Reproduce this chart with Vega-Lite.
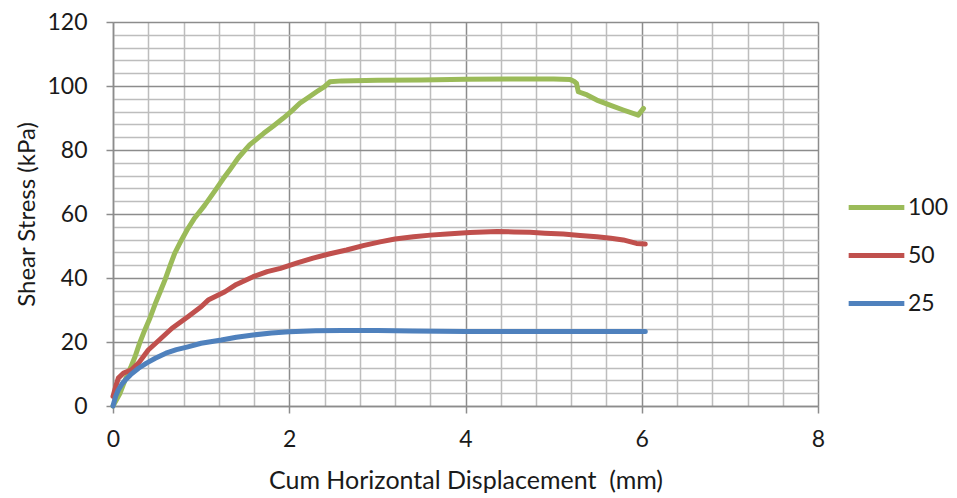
{
  "$schema": "https://vega.github.io/schema/vega-lite/v6.json",
  "width": 705,
  "height": 384,
  "autosize": {"type": "none"},
  "padding": {"left": 113, "top": 22, "right": 139, "bottom": 92},
  "background": "#ffffff",
  "config": {
    "view": {"stroke": null},
    "font": "Lato",
    "axis": {"labelFont": "Lato", "titleFont": "Lato", "labelColor": "#1a1a1a", "titleColor": "#1a1a1a", "titleFontWeight": "normal"},
    "legend": {"labelFont": "Lato", "labelColor": "#1a1a1a"}
  },
  "data": {
    "values": [
      {"series": "100", "x": 0, "y": 0},
      {"series": "100", "x": 0.02, "y": 1},
      {"series": "100", "x": 0.08, "y": 4},
      {"series": "100", "x": 0.14, "y": 8.3},
      {"series": "100", "x": 0.2, "y": 12},
      {"series": "100", "x": 0.25, "y": 15.4},
      {"series": "100", "x": 0.3, "y": 19.5},
      {"series": "100", "x": 0.36, "y": 23.7},
      {"series": "100", "x": 0.42, "y": 27.5},
      {"series": "100", "x": 0.48, "y": 32},
      {"series": "100", "x": 0.54, "y": 36},
      {"series": "100", "x": 0.59, "y": 39.4},
      {"series": "100", "x": 0.65, "y": 44},
      {"series": "100", "x": 0.7, "y": 47.7},
      {"series": "100", "x": 0.77, "y": 51.5},
      {"series": "100", "x": 0.84, "y": 55},
      {"series": "100", "x": 0.92, "y": 58.5},
      {"series": "100", "x": 1.04, "y": 62.7},
      {"series": "100", "x": 1.15, "y": 67},
      {"series": "100", "x": 1.25, "y": 71},
      {"series": "100", "x": 1.33, "y": 74},
      {"series": "100", "x": 1.42, "y": 77.5},
      {"series": "100", "x": 1.55, "y": 81.6},
      {"series": "100", "x": 1.71, "y": 85.2},
      {"series": "100", "x": 1.82, "y": 87.5},
      {"series": "100", "x": 1.93, "y": 89.9},
      {"series": "100", "x": 2.02, "y": 92},
      {"series": "100", "x": 2.12, "y": 94.6},
      {"series": "100", "x": 2.22, "y": 96.5},
      {"series": "100", "x": 2.31, "y": 98.2},
      {"series": "100", "x": 2.4, "y": 99.8},
      {"series": "100", "x": 2.46, "y": 101.3},
      {"series": "100", "x": 2.6, "y": 101.6},
      {"series": "100", "x": 3.0, "y": 101.8},
      {"series": "100", "x": 3.5, "y": 101.9},
      {"series": "100", "x": 4.0, "y": 102.1},
      {"series": "100", "x": 4.5, "y": 102.2},
      {"series": "100", "x": 5.0, "y": 102.2},
      {"series": "100", "x": 5.19, "y": 102.0},
      {"series": "100", "x": 5.23, "y": 101.5},
      {"series": "100", "x": 5.26, "y": 100.8},
      {"series": "100", "x": 5.28, "y": 98.2},
      {"series": "100", "x": 5.38, "y": 97.2},
      {"series": "100", "x": 5.49, "y": 95.6},
      {"series": "100", "x": 5.64, "y": 94},
      {"series": "100", "x": 5.79, "y": 92.5},
      {"series": "100", "x": 5.96, "y": 90.9},
      {"series": "100", "x": 6.02, "y": 93},
      {"series": "50", "x": 0, "y": 3},
      {"series": "50", "x": 0.03, "y": 6},
      {"series": "50", "x": 0.06, "y": 8.7},
      {"series": "50", "x": 0.12, "y": 10.3},
      {"series": "50", "x": 0.21, "y": 11.3},
      {"series": "50", "x": 0.29, "y": 13.4},
      {"series": "50", "x": 0.4, "y": 17.5},
      {"series": "50", "x": 0.5, "y": 20},
      {"series": "50", "x": 0.67, "y": 24.3},
      {"series": "50", "x": 0.85, "y": 27.9},
      {"series": "50", "x": 1.0, "y": 31},
      {"series": "50", "x": 1.08, "y": 33.1},
      {"series": "50", "x": 1.27, "y": 35.7},
      {"series": "50", "x": 1.4, "y": 38},
      {"series": "50", "x": 1.59, "y": 40.4},
      {"series": "50", "x": 1.75, "y": 42},
      {"series": "50", "x": 1.9, "y": 43},
      {"series": "50", "x": 2.1, "y": 44.8},
      {"series": "50", "x": 2.27, "y": 46.2},
      {"series": "50", "x": 2.45, "y": 47.5},
      {"series": "50", "x": 2.65, "y": 48.75},
      {"series": "50", "x": 2.85, "y": 50.2},
      {"series": "50", "x": 3.03, "y": 51.3},
      {"series": "50", "x": 3.2, "y": 52.2},
      {"series": "50", "x": 3.41, "y": 52.9},
      {"series": "50", "x": 3.6, "y": 53.4},
      {"series": "50", "x": 3.79, "y": 53.75},
      {"series": "50", "x": 4.05, "y": 54.2},
      {"series": "50", "x": 4.36, "y": 54.5},
      {"series": "50", "x": 4.55, "y": 54.4},
      {"series": "50", "x": 4.73, "y": 54.3},
      {"series": "50", "x": 4.9, "y": 54},
      {"series": "50", "x": 5.11, "y": 53.75},
      {"series": "50", "x": 5.3, "y": 53.3},
      {"series": "50", "x": 5.49, "y": 52.9},
      {"series": "50", "x": 5.65, "y": 52.4},
      {"series": "50", "x": 5.79, "y": 51.9},
      {"series": "50", "x": 5.94, "y": 50.8},
      {"series": "50", "x": 6.04, "y": 50.6},
      {"series": "25", "x": 0, "y": 0},
      {"series": "25", "x": 0.03, "y": 3},
      {"series": "25", "x": 0.06, "y": 5},
      {"series": "25", "x": 0.1, "y": 6.8},
      {"series": "25", "x": 0.14, "y": 8.1},
      {"series": "25", "x": 0.2, "y": 9.8},
      {"series": "25", "x": 0.29, "y": 11.8},
      {"series": "25", "x": 0.38, "y": 13.4},
      {"series": "25", "x": 0.48, "y": 14.9},
      {"series": "25", "x": 0.6, "y": 16.5},
      {"series": "25", "x": 0.72, "y": 17.6},
      {"series": "25", "x": 0.85, "y": 18.5},
      {"series": "25", "x": 1.0, "y": 19.6},
      {"series": "25", "x": 1.23, "y": 20.6},
      {"series": "25", "x": 1.4, "y": 21.5},
      {"series": "25", "x": 1.59, "y": 22.2},
      {"series": "25", "x": 1.8, "y": 22.8},
      {"series": "25", "x": 2.0, "y": 23.2},
      {"series": "25", "x": 2.3, "y": 23.5},
      {"series": "25", "x": 2.6, "y": 23.6},
      {"series": "25", "x": 3.0, "y": 23.6},
      {"series": "25", "x": 3.4, "y": 23.4},
      {"series": "25", "x": 4.0, "y": 23.3},
      {"series": "25", "x": 5.0, "y": 23.3},
      {"series": "25", "x": 6.04, "y": 23.3}
    ]
  },
  "mark": {"type": "line", "strokeWidth": 5, "strokeCap": "round", "strokeJoin": "round", "clip": false},
  "encoding": {
    "x": {
      "field": "x",
      "type": "quantitative",
      "scale": {"domain": [0, 8], "nice": false, "zero": false},
      "axis": {
        "title": "Cum Horizontal Displacement\u00a0 (mm)",
        "values": [0, 0.4, 0.8, 1.2, 1.6, 2, 2.4, 2.8, 3.2, 3.6, 4, 4.4, 4.8, 5.2, 5.6, 6, 6.4, 6.8, 7.2, 7.6, 8],
        "labelExpr": "datum.value % 2 === 0 ? format(datum.value, 'd') : ''",
        "labelOverlap": false,
        "labelFlush": false,
        "labelFontSize": 23,
        "labelPadding": 15,
        "titleFontSize": 25,
        "titlePadding": 17,
        "grid": true,
        "gridColor": {"condition": {"test": "datum.value % 2 === 0", "value": "#8c8c8c"}, "value": "#bdbdbd"},
        "gridWidth": 1.5,
        "domainColor": "#8c8c8c",
        "domainWidth": 1.5,
        "tickColor": "#8c8c8c",
        "tickWidth": 1.5,
        "tickSize": 7,
        "tickOpacity": {"condition": {"test": "datum.value % 2 === 0", "value": 1}, "value": 0}
      }
    },
    "y": {
      "field": "y",
      "type": "quantitative",
      "scale": {"domain": [0, 120], "nice": false},
      "axis": {
        "title": "Shear Stress (kPa)",
        "values": [0, 4, 8, 12, 16, 20, 24, 28, 32, 36, 40, 44, 48, 52, 56, 60, 64, 68, 72, 76, 80, 84, 88, 92, 96, 100, 104, 108, 112, 116, 120],
        "labelExpr": "datum.value % 20 === 0 ? format(datum.value, 'd') : ''",
        "labelOverlap": false,
        "labelFlush": false,
        "labelFontSize": 23,
        "labelPadding": 19,
        "titleFontSize": 24,
        "titlePadding": 7,
        "grid": true,
        "gridColor": {"condition": {"test": "datum.value % 20 === 0", "value": "#8c8c8c"}, "value": "#bdbdbd"},
        "gridWidth": 1.5,
        "domainColor": "#8c8c8c",
        "domainWidth": 1.5,
        "tickColor": "#8c8c8c",
        "tickWidth": 1.5,
        "tickSize": 7,
        "tickOpacity": {"condition": {"test": "datum.value % 20 === 0", "value": 1}, "value": 0}
      }
    },
    "color": {
      "field": "series",
      "type": "nominal",
      "scale": {"domain": ["100", "50", "25"], "range": ["#9bbb59", "#c0504d", "#4f81bd"]},
      "legend": {
        "title": null,
        "orient": "none",
        "legendX": 733,
        "legendY": 155,
        "symbolType": "stroke",
        "symbolSize": 3100,
        "symbolStrokeWidth": 5,
        "labelFontSize": 23,
        "labelOffset": 1,
        "rowPadding": 5
      }
    }
  }
}
